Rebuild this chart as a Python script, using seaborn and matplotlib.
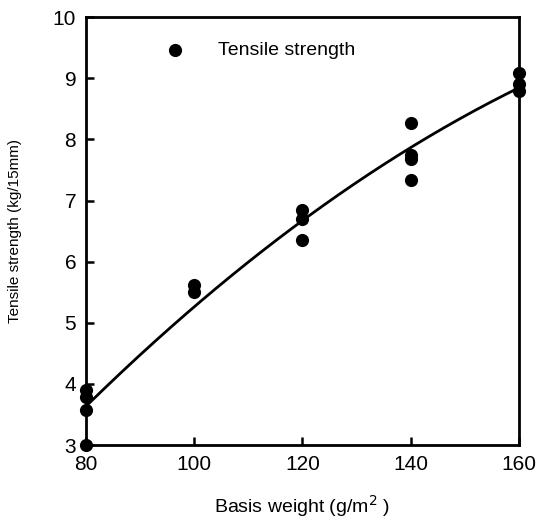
import numpy as np
import pandas as pd
import matplotlib
matplotlib.use("Agg")
import matplotlib.pyplot as plt
import seaborn as sns

basis_weight = [80, 80, 80, 80, 100, 100, 120, 120, 120, 140, 140, 140, 140, 160, 160, 160]
tensile = [3.0, 3.57, 3.78, 3.9, 5.62, 5.5, 6.85, 6.7, 6.35, 8.27, 7.75, 7.68, 7.33, 9.08, 8.9, 8.8]
x_ticks = [80, 100, 120, 140, 160]
y_ticks = [3, 4, 5, 6, 7, 8, 9, 10]

sns.set_style("ticks")
plt.rcParams['font.family'] = ['Liberation Sans', 'DejaVu Sans']
plt.rcParams['text.color'] = 'black'
plt.rcParams['axes.labelcolor'] = 'black'
plt.rcParams['xtick.color'] = 'black'
plt.rcParams['ytick.color'] = 'black'
plt.rcParams['axes.edgecolor'] = 'black'

df = pd.DataFrame({"Basis weight": basis_weight, "Tensile strength": tensile})

fig = plt.figure(figsize=(5.4, 5.23), dpi=100)
ax = fig.add_axes([0.159, 0.149, 0.802, 0.818])

coef = np.polyfit(basis_weight, tensile, 2)
xs = np.linspace(80, 160, 200)
fit = pd.DataFrame({"x": xs, "y": np.polyval(coef, xs)})
sns.lineplot(data=fit, x="x", y="y", ax=ax, color="black", linewidth=2)
sns.scatterplot(data=df, x="Basis weight", y="Tensile strength", ax=ax,
                color="black", s=90, edgecolor="black", linewidth=0,
                label="Tensile strength", clip_on=False, zorder=5)

ax.set_xlim(80, 160)
ax.set_ylim(3, 10)
ax.set_xticks(x_ticks)
ax.set_yticks(y_ticks)
ax.tick_params(direction="in", length=6, width=1.8, labelsize=15, pad=7)
for s in ax.spines.values():
    s.set_linewidth(2)
ax.set_xlabel("Basis weight (g/m$^2$ )", fontsize=14, labelpad=14)
ax.set_ylabel("Tensile strength (kg/15mm)", fontsize=11, labelpad=22)
ax.legend(loc="upper left", bbox_to_anchor=(0.12, 0.985), frameon=False,
          fontsize=14, handletextpad=1.2, markerscale=1.0)

fig.savefig("out.png", dpi=100)
